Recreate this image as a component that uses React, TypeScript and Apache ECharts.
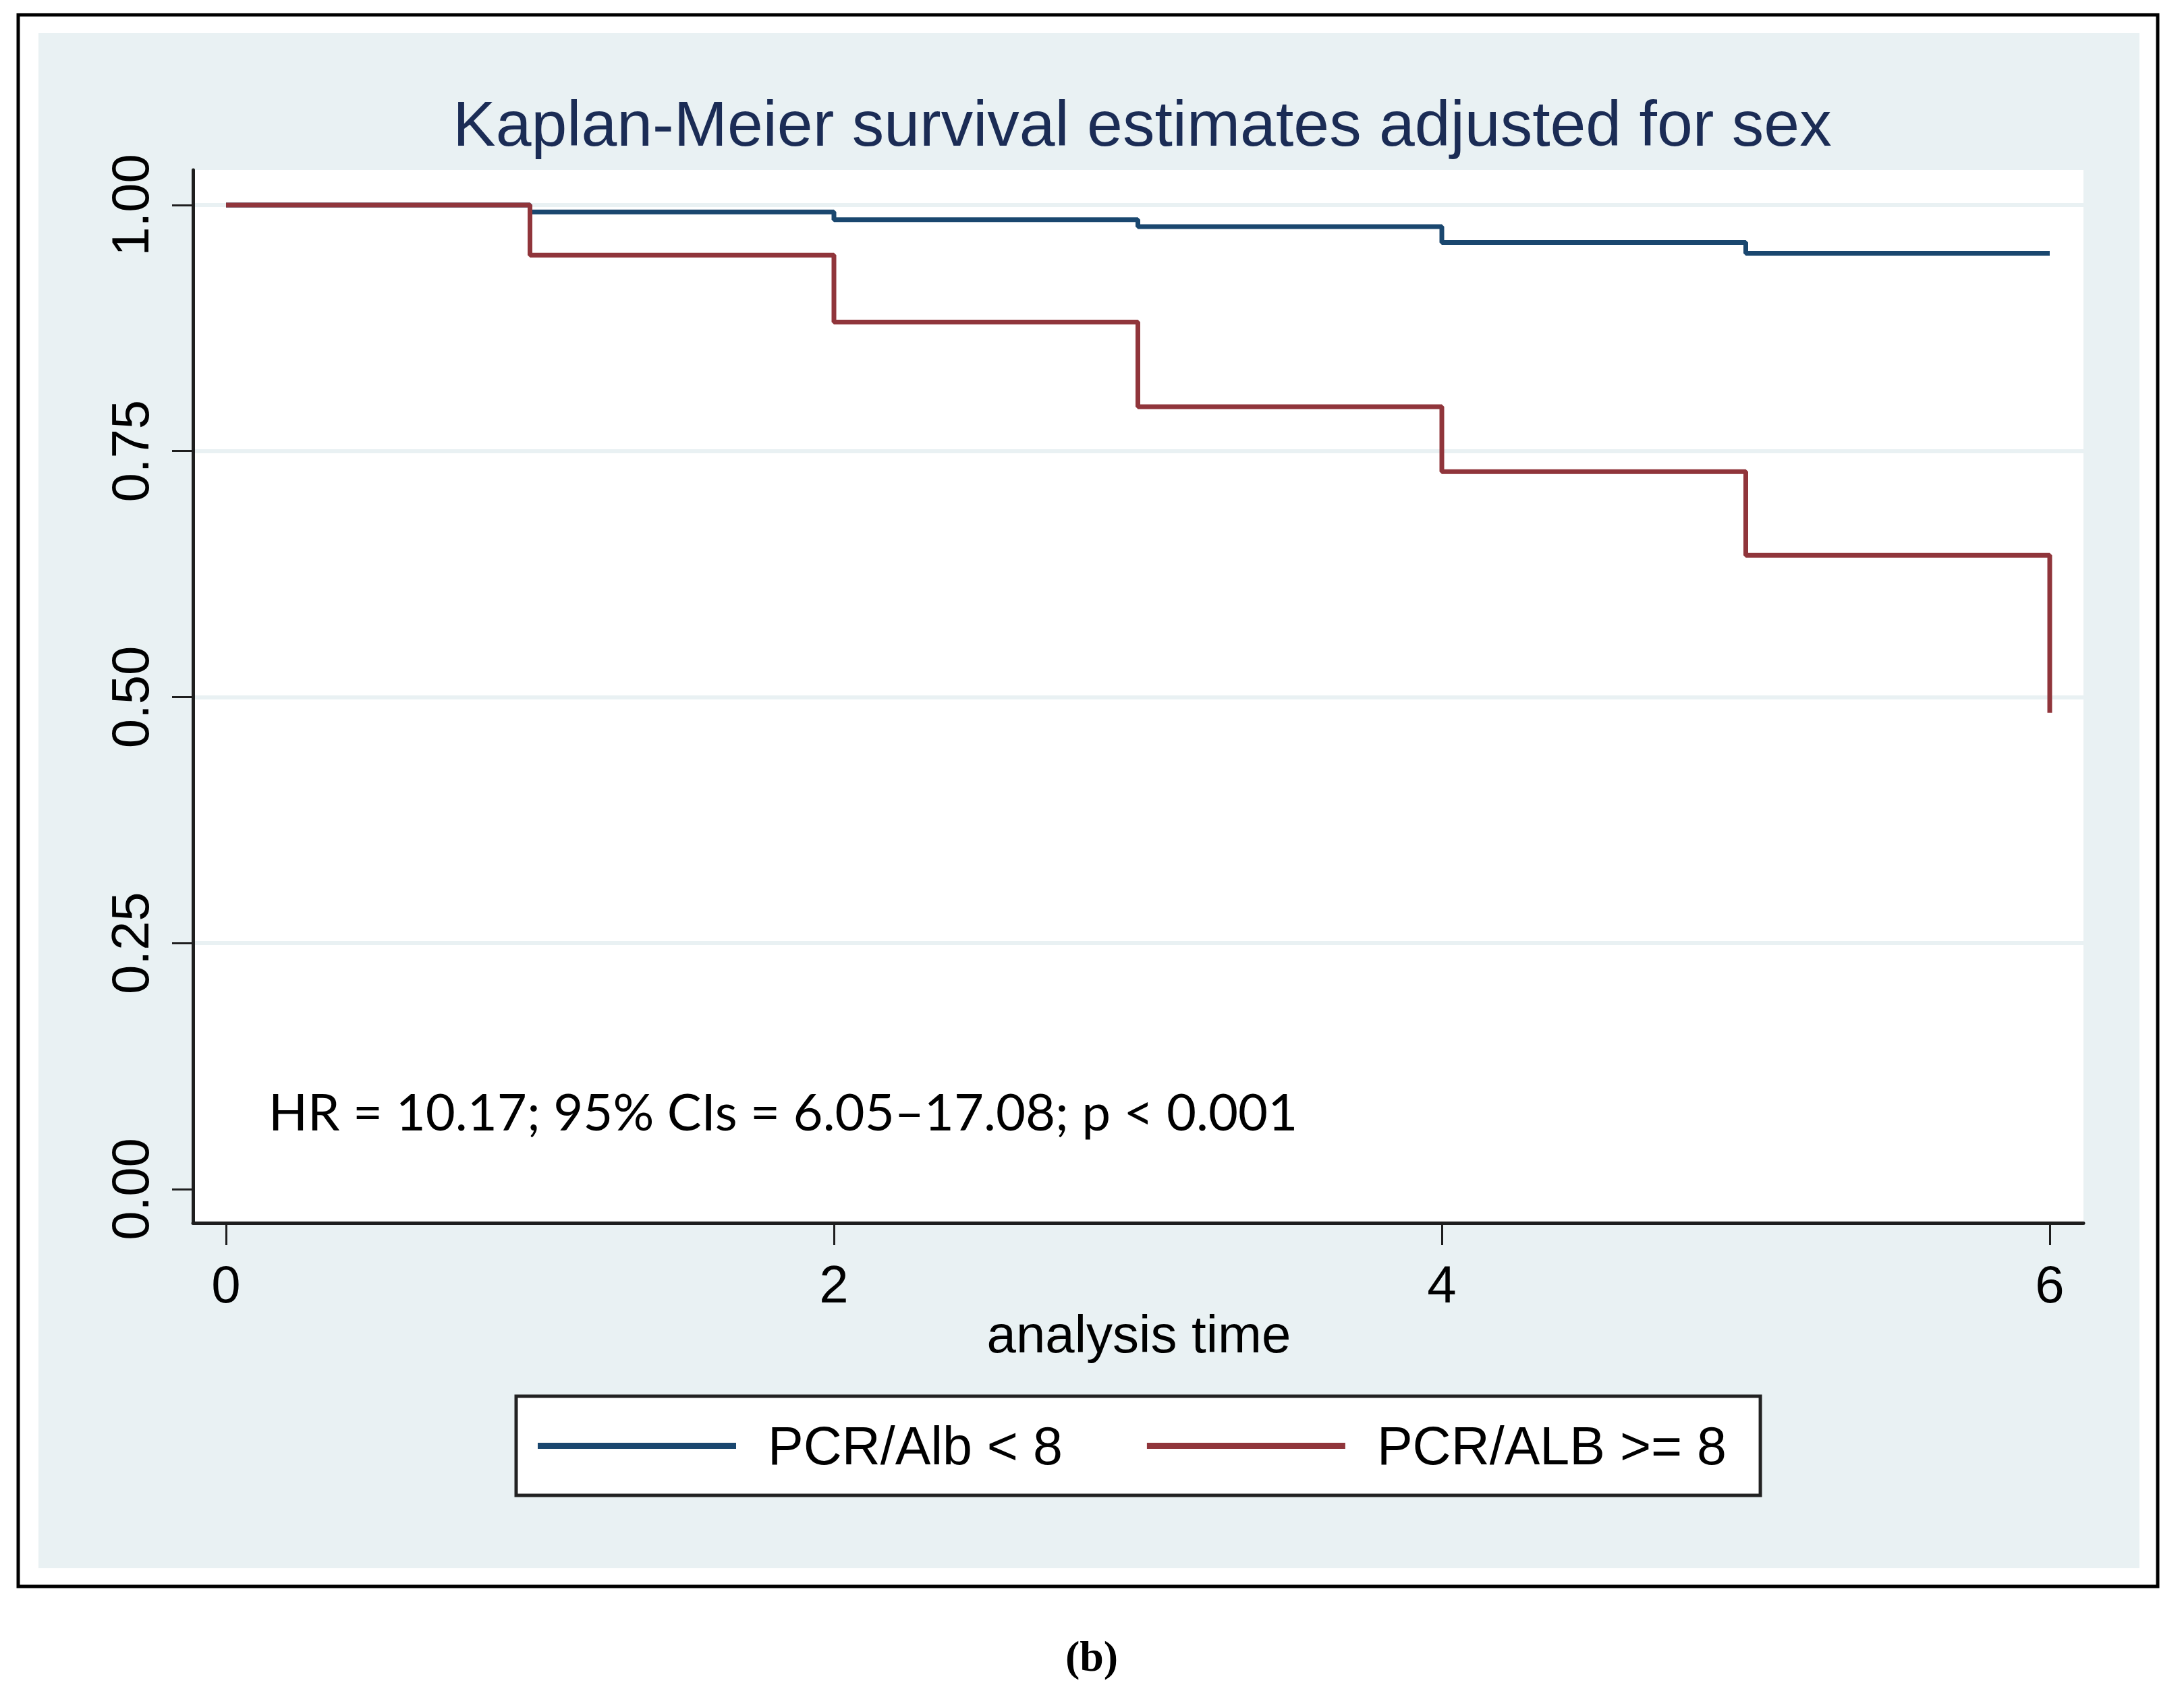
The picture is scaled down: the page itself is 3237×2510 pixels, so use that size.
import React, { useEffect, useRef } from "react";
import * as echarts from "echarts";

const times = [0, 1, 2, 3, 4, 5, 6];
const survLow = [1.0, 0.993, 0.985, 0.978, 0.962, 0.951, 0.951];
const survHigh = [1.0, 0.949, 0.881, 0.795, 0.729, 0.644, 0.484];
const xTicks = [0, 2, 4, 6];
const yTicks = [0, 0.25, 0.5, 0.75, 1];
const seriesNames = ["PCR/Alb < 8", "PCR/ALB >= 8"];
const titleText = "Kaplan-Meier survival estimates adjusted for sex";
const xAxisTitle = "analysis time";
const annotation = "HR = 10.17; 95% CIs = 6.05\u201317.08; p < 0.001";
const caption = "(b)";

const SANS = "'Liberation Sans', Arial, sans-serif";
const BLUE = "#1a476f";
const RED = "#90353b";
const AXIS = "#1e1e1e";

export default function App() {
  const ref = useRef<HTMLDivElement>(null);
  useEffect(() => {
    if (!ref.current) return;
    const chart = echarts.init(ref.current, undefined, { renderer: "svg" });
    const low = times.map((t, i) => [t, survLow[i]]);
    const high = times.map((t, i) => [t, survHigh[i]]);
    chart.setOption({
      animation: false,
      backgroundColor: "#ffffff",
      title: {
        text: titleText,
        left: 1688,
        top: 130,
        textAlign: "center",
        textStyle: { fontFamily: SANS, fontSize: 95, fontWeight: "normal", color: "#1b2c55" },
      },
      graphic: [
        {
          type: "rect",
          z: -10,
          silent: true,
          shape: { x: 27, y: 22, width: 3171, height: 2330 },
          style: { fill: "#ffffff", stroke: "#000000", lineWidth: 5 },
        },
        {
          type: "rect",
          z: -9,
          silent: true,
          shape: { x: 57, y: 49, width: 3114, height: 2276 },
          style: { fill: "#e9f1f3" },
        },
        {
          type: "text",
          z: 10,
          x: 1688,
          y: 1978,
          style: {
            text: xAxisTitle,
            fontFamily: SANS,
            fontSize: 78,
            fill: "#000000",
            textAlign: "center",
            textVerticalAlign: "middle",
          },
        },
        {
          type: "text",
          z: 10,
          x: 398,
          y: 1646,
          style: {
            text: annotation,
            fontFamily: "Lato, 'Open Sans', sans-serif",
            fontSize: 76,
            fill: "#000000",
            textVerticalAlign: "middle",
          },
        },
        {
          type: "text",
          z: 10,
          x: 1618,
          y: 2455,
          style: {
            text: caption,
            fontFamily: "'Liberation Serif', 'Times New Roman', serif",
            fontWeight: "bold",
            fontSize: 64,
            fill: "#000000",
            textAlign: "center",
            textVerticalAlign: "middle",
          },
        },
      ],
      legend: {
        show: true,
        left: 765,
        top: 2070,
        orient: "horizontal",
        backgroundColor: "#ffffff",
        borderColor: "#222222",
        borderWidth: 5,
        padding: [34, 50, 34, 32],
        itemWidth: 294,
        itemHeight: 9,
        itemGap: 125,
        icon: "rect",
        data: [
          { name: seriesNames[0], icon: "rect" },
          { name: seriesNames[1], icon: "rect" },
        ],
        lineStyle: { width: 8 },
        textStyle: {
          fontFamily: SANS,
          fontSize: 79,
          color: "#000000",
          padding: [0, 0, 0, 42],
        },
      },
      grid: {
        left: 286,
        top: 252,
        width: 2802,
        height: 1561,
        show: true,
        backgroundColor: "#ffffff",
        borderWidth: 0,
      },
      xAxis: {
        type: "value",
        min: -0.1088,
        max: 6.111,
        axisLine: { show: true, onZero: false, lineStyle: { color: AXIS, width: 5 } },
        axisTick: { show: true, length: 33, customValues: xTicks, lineStyle: { color: AXIS, width: 3 } },
        axisLabel: {
          customValues: xTicks,
          margin: 52,
          fontFamily: SANS,
          fontSize: 78,
          color: "#000000",
          formatter: (v: number) => String(v),
        },
        splitLine: { show: false },
      },
      yAxis: {
        type: "value",
        min: -0.0343,
        max: 1.0356,
        axisLine: { show: true, onZero: false, lineStyle: { color: AXIS, width: 5 } },
        axisTick: { show: true, length: 31, customValues: yTicks, lineStyle: { color: AXIS, width: 3 } },
        axisLabel: {
          customValues: yTicks,
          rotate: 90,
          margin: 54,
          fontFamily: SANS,
          fontSize: 78,
          color: "#000000",
          formatter: (v: number) => v.toFixed(2),
        },
        splitLine: {
          show: true,
          showMinLine: false,
          showMaxLine: true,
          lineStyle: { color: "#e9f1f3", width: 6 },
        },
      },
      series: [
        {
          name: seriesNames[0],
          type: "line",
          step: "end",
          data: low,
          symbol: "none",
          lineStyle: { color: BLUE, width: 7 },
          itemStyle: { color: BLUE },
          z: 3,
        },
        {
          name: seriesNames[1],
          type: "line",
          step: "end",
          data: high,
          symbol: "none",
          lineStyle: { color: RED, width: 7 },
          itemStyle: { color: RED },
          z: 4,
        },
      ],
    });
    return () => chart.dispose();
  }, []);
  return (
    <div
      ref={ref}
      style={{ position: "absolute", left: 0, top: 0, width: 3237, height: 2510 }}
    />
  );
}
